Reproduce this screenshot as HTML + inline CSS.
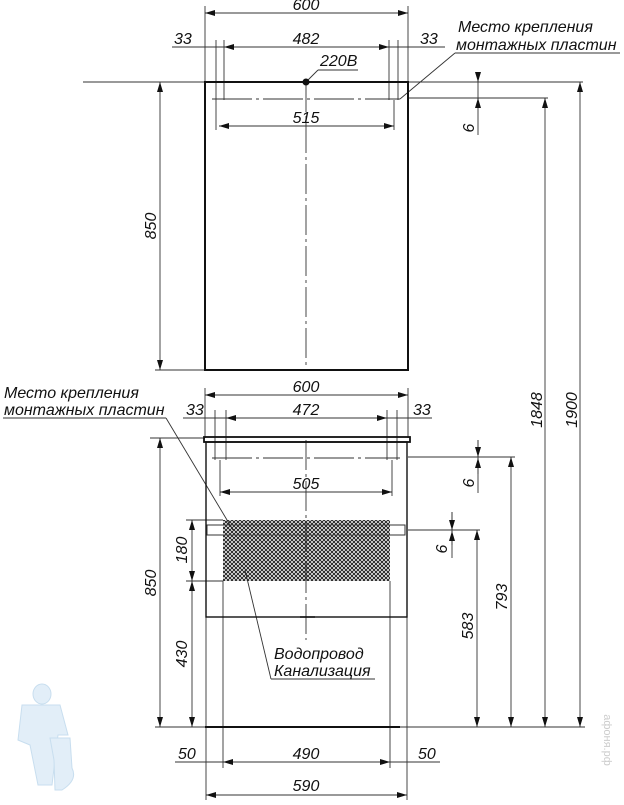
<!DOCTYPE html>
<html><head><meta charset="utf-8"><style>
body{margin:0;background:#fff}
svg text{font-family:"Liberation Sans",sans-serif;font-style:italic;font-size:16px;fill:#111}
</style></head><body>
<svg width="624" height="800" viewBox="0 0 624 800" xmlns="http://www.w3.org/2000/svg">
<defs>
<marker id="a" viewBox="0 0 10 6" refX="10" refY="3" markerWidth="10" markerHeight="6" orient="auto-start-reverse" markerUnits="userSpaceOnUse"><path d="M0,0L10,3L0,6z" fill="#111"/></marker>
<pattern id="m" width="4" height="4" patternUnits="userSpaceOnUse"><path d="M0,0L4,4M4,0L0,4" stroke="#222" stroke-width="1"/></pattern>
</defs>
<g stroke="#333" stroke-width="0.9" fill="none">
<line x1="205" y1="6" x2="205" y2="82"/><line x1="408" y1="6" x2="408" y2="82"/>
<line x1="205" y1="13" x2="408" y2="13" marker-start="url(#a)" marker-end="url(#a)"/>
<line x1="172" y1="47" x2="445" y2="47"/>
<line x1="216" y1="40" x2="216" y2="100"/><line x1="224" y1="40" x2="224" y2="100"/>
<line x1="389" y1="40" x2="389" y2="100"/><line x1="398" y1="40" x2="398" y2="100"/>
<line x1="224" y1="47" x2="389" y2="47" marker-start="url(#a)" marker-end="url(#a)"/>
<line x1="216" y1="100" x2="216" y2="130"/><line x1="394" y1="100" x2="394" y2="130"/>
<line x1="219" y1="126" x2="394" y2="126" marker-start="url(#a)" marker-end="url(#a)"/>
<line x1="212" y1="99" x2="400" y2="99" stroke-dasharray="40,4,3,4"/>
<line x1="306" y1="82" x2="306" y2="370" stroke-dasharray="30,4,3,4"/>
<line x1="83" y1="82" x2="583" y2="82"/>
<line x1="408" y1="98" x2="548" y2="98"/>
<line x1="155" y1="370" x2="205" y2="370"/>
<line x1="160" y1="82" x2="160" y2="370" marker-start="url(#a)" marker-end="url(#a)"/>
<line x1="478" y1="82" x2="478" y2="135"/>
<line x1="478" y1="72" x2="478" y2="82" marker-end="url(#a)"/>
<line x1="478" y1="108" x2="478" y2="98" marker-end="url(#a)"/>
<line x1="545" y1="98" x2="545" y2="727" marker-start="url(#a)" marker-end="url(#a)"/>
<line x1="580" y1="82" x2="580" y2="727" marker-start="url(#a)" marker-end="url(#a)"/>
<line x1="400" y1="99" x2="455" y2="53"/><line x1="455" y1="53" x2="620" y2="53"/>
<line x1="306" y1="82" x2="318" y2="70"/><line x1="318" y1="70" x2="358" y2="70"/>
<line x1="205" y1="388" x2="205" y2="438"/><line x1="408" y1="388" x2="408" y2="438"/>
<line x1="205" y1="395" x2="408" y2="395" marker-start="url(#a)" marker-end="url(#a)"/>
<line x1="183" y1="418" x2="432" y2="418"/>
<line x1="215" y1="410" x2="215" y2="460"/><line x1="226" y1="410" x2="226" y2="460"/>
<line x1="387" y1="410" x2="387" y2="460"/><line x1="397" y1="410" x2="397" y2="460"/>
<line x1="226" y1="418" x2="387" y2="418" marker-start="url(#a)" marker-end="url(#a)"/>
<line x1="220" y1="460" x2="220" y2="496"/><line x1="392" y1="460" x2="392" y2="496"/>
<line x1="220" y1="492" x2="392" y2="492" marker-start="url(#a)" marker-end="url(#a)"/>
<line x1="212" y1="458" x2="400" y2="458" stroke-dasharray="40,4,3,4"/>
<line x1="306" y1="440" x2="306" y2="640" stroke-dasharray="30,4,3,4"/>
<line x1="300" y1="617" x2="315" y2="617" stroke="#111" stroke-width="1.5"/>
<line x1="150" y1="438" x2="205" y2="438"/>
<line x1="408" y1="457" x2="515" y2="457"/>
<line x1="478" y1="440" x2="478" y2="493"/>
<line x1="478" y1="440" x2="478" y2="457" marker-end="url(#a)"/>
<line x1="478" y1="474" x2="478" y2="458" marker-end="url(#a)"/>
<line x1="408" y1="530" x2="480" y2="530"/>
<line x1="452" y1="512" x2="452" y2="558"/>
<line x1="452" y1="512" x2="452" y2="530" marker-end="url(#a)"/>
<line x1="452" y1="545" x2="452" y2="531" marker-end="url(#a)"/>
<line x1="160" y1="438" x2="160" y2="727" marker-start="url(#a)" marker-end="url(#a)"/>
<line x1="186" y1="520" x2="223" y2="520"/><line x1="186" y1="581" x2="223" y2="581"/>
<line x1="192" y1="520" x2="192" y2="581" marker-start="url(#a)" marker-end="url(#a)"/>
<line x1="192" y1="581" x2="192" y2="727" marker-start="url(#a)" marker-end="url(#a)"/>
<line x1="477" y1="530" x2="477" y2="727" marker-start="url(#a)" marker-end="url(#a)"/>
<line x1="511" y1="457" x2="511" y2="727" marker-start="url(#a)" marker-end="url(#a)"/>
<line x1="155" y1="727" x2="585" y2="727"/>
<line x1="206" y1="617" x2="206" y2="800"/><line x1="407" y1="617" x2="407" y2="800"/>
<line x1="223" y1="581" x2="223" y2="768"/><line x1="390" y1="581" x2="390" y2="768"/>
<line x1="175" y1="762" x2="440" y2="762"/>
<line x1="223" y1="762" x2="390" y2="762" marker-start="url(#a)" marker-end="url(#a)"/>
<line x1="206" y1="795" x2="407" y2="795" marker-start="url(#a)" marker-end="url(#a)"/>
<line x1="3" y1="418" x2="166" y2="418"/><line x1="166" y1="418" x2="233" y2="530"/>
<line x1="245" y1="570" x2="271" y2="679"/><line x1="271" y1="679" x2="375" y2="679"/>
</g>
<rect x="205" y="82" width="203" height="288" fill="none" stroke="#111" stroke-width="2"/>
<circle cx="306" cy="82" r="3.5" fill="#111"/>
<rect x="204" y="437" width="206" height="5" fill="none" stroke="#111" stroke-width="1.8"/>
<rect x="206" y="442" width="201" height="175" fill="none" stroke="#111" stroke-width="1.4"/>
<rect x="223" y="520" width="167" height="61" fill="url(#m)"/>
<rect x="207" y="525" width="198" height="10" fill="none" stroke="#333" stroke-width="1"/>
<line x1="205" y1="727" x2="400" y2="727" stroke="#111" stroke-width="2"/>
<text x="306" y="10" text-anchor="middle">600</text>
<text x="174" y="44">33</text>
<text x="306" y="44" text-anchor="middle">482</text>
<text x="420" y="44">33</text>
<text x="320" y="66">220В</text>
<text x="306" y="123" text-anchor="middle">515</text>
<text x="458" y="32">Место крепления</text>
<text x="456" y="50">монтажных пластин</text>
<text transform="translate(156,226) rotate(-90)" text-anchor="middle">850</text>
<text transform="translate(474,128) rotate(-90)" text-anchor="middle">6</text>
<text transform="translate(542,410) rotate(-90)" text-anchor="middle">1848</text>
<text transform="translate(577,410) rotate(-90)" text-anchor="middle">1900</text>
<text x="306" y="392" text-anchor="middle">600</text>
<text x="4" y="398">Место крепления</text>
<text x="4" y="415">монтажных пластин</text>
<text x="186" y="415">33</text>
<text x="306" y="415" text-anchor="middle">472</text>
<text x="413" y="415">33</text>
<text x="306" y="489" text-anchor="middle">505</text>
<text transform="translate(474,483) rotate(-90)" text-anchor="middle">6</text>
<text transform="translate(447,549) rotate(-90)" text-anchor="middle">6</text>
<text transform="translate(156,583) rotate(-90)" text-anchor="middle">850</text>
<text transform="translate(187,550) rotate(-90)" text-anchor="middle">180</text>
<text transform="translate(187,654) rotate(-90)" text-anchor="middle">430</text>
<text transform="translate(473,626) rotate(-90)" text-anchor="middle">583</text>
<text transform="translate(507,597) rotate(-90)" text-anchor="middle">793</text>
<text x="274" y="659">Водопровод</text>
<text x="274" y="676">Канализация</text>
<text x="178" y="759">50</text>
<text x="306" y="759" text-anchor="middle">490</text>
<text x="418" y="759">50</text>
<text x="306" y="791" text-anchor="middle">590</text>
<text transform="translate(604,740) rotate(90)" text-anchor="middle" style="font-size:11px;fill:#ccc;font-style:normal">афоня.рф</text>
<g fill="#e2eef8" stroke="#c8deef" stroke-width="1">
<ellipse cx="42" cy="694" rx="9" ry="10"/>
<path d="M22,705 L60,705 L68,735 L58,735 L52,785 L38,785 L30,745 L18,740z"/>
<path d="M50,738 L70,738 L72,768 Q78,780 62,790 L55,790 L54,760z"/>
</g>
</svg>
</body></html>
